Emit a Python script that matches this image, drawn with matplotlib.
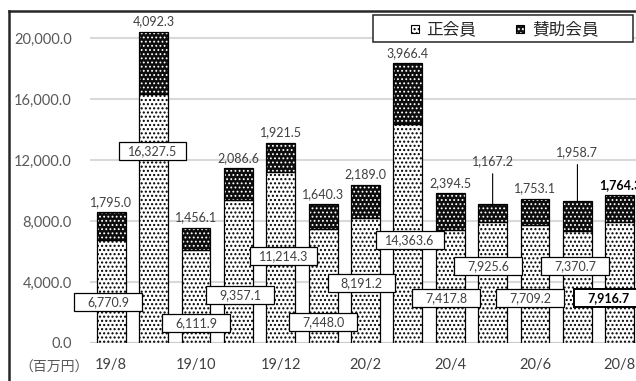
import matplotlib.pyplot as plt
from matplotlib.patches import Rectangle
from matplotlib.lines import Line2D
from matplotlib.path import Path

plt.rcParams['font.family'] = ['Lato', 'Noto Sans CJK JP', 'DejaVu Sans']
plt.rcParams['hatch.linewidth'] = 1.0

months = ['19/8', '19/9', '19/10', '19/11', '19/12', '20/1', '20/2',
          '20/3', '20/4', '20/5', '20/6', '20/7', '20/8']
regular = [6770.9, 16327.5, 6111.9, 9357.1, 11214.3, 7448.0, 8191.2,
           14363.6, 7417.8, 7925.6, 7709.2, 7370.7, 7916.7]
supporting = [1795.0, 4092.3, 1456.1, 2086.6, 1921.5, 1640.3, 2189.0,
              3966.4, 2394.5, 1167.2, 1753.1, 1958.7, 1764.3]
yticks = [0, 4000, 8000, 12000, 16000, 20000]

# where the boxed 正会員 labels sit (hand placed, like the original)
reg_lab_x = [-0.07, 0.97, 2.0, 3.04, 4.06, 5.0, 5.9, 7.05, 7.9, 8.89, 9.88, 10.94, 11.72]
reg_lab_y = [2690, 12590, 1310, 3150, 5700, 1380, 3930, 6750, 2950, 5050, 2950, 5050, 2950]
# extra lift (points) of the 賛助会員 labels that got pulled up
sup_lift = [0, 0, 0, 0, 0, 0, 0, 0, 0, 24, 0, 28, 0]

W, H = 636, 381
def fx(px):
    return px / W
def fy(py):
    return 1 - py / H

fig = plt.figure(figsize=(W / 100, H / 100), dpi=100)
ax = fig.add_axes([fx(90), fy(343), fx(636) - fx(90), fy(11) - fy(343)])

x = list(range(len(months)))
totals = [r + s for r, s in zip(regular, supporting)]
bw = 0.68

ax.bar(x, regular, bw, color='white', hatch='....', edgecolor='black', lw=0, zorder=2)
plt.rcParams['hatch.linewidth'] = 0.8
ax.bar(x, supporting, bw, bottom=regular, color='#0d0d0d', hatch='....',
       edgecolor='white', lw=0, zorder=2)
ax.bar(x, regular, bw, fill=False, edgecolor='black', lw=0.9, zorder=3)
ax.bar(x, supporting, bw, bottom=regular, fill=False, edgecolor='black', lw=0.9, zorder=3)


def label_box(x0, y0, width, height, mutation_size):
    cx = x0 + width / 2
    cy = y0 + height / 2
    w = 5.4 * mutation_size
    h = 1.45 * mutation_size
    return Path([(cx - w / 2, cy - h / 2), (cx + w / 2, cy - h / 2),
                 (cx + w / 2, cy + h / 2), (cx - w / 2, cy + h / 2),
                 (cx - w / 2, cy - h / 2)], closed=True)


last = len(months) - 1
for i in x:
    bold = 'bold' if i == last else 'normal'
    ax.text(reg_lab_x[i], reg_lab_y[i], f'{regular[i]:,.1f}', ha='center', va='center',
            fontsize=9, color='#404040' if i != last else 'black', fontweight=bold, zorder=5,
            bbox=dict(boxstyle=label_box, facecolor='white', edgecolor='black',
                      lw=1.4 if i == last else 0.9))
    arrow = None
    if sup_lift[i]:
        arrow = dict(arrowstyle='-', color='black', lw=0.8, relpos=(0.5, 0),
                     shrinkA=3, shrinkB=0)
    ax.annotate(f'{supporting[i]:,.1f}', (i, totals[i]), xytext=(0, 3 + sup_lift[i]),
                textcoords='offset points', ha='center', va='bottom', fontsize=9,
                color='#404040' if i != last else 'black', fontweight=bold,
                arrowprops=arrow, zorder=5)

ax.set_xlim(-0.5, (636 - 111) / 42.4)
ax.set_ylim(0, 332 * 20000 / 305)
ax.set_yticks(yticks)
ax.set_yticklabels([f'{v:,.1f}' for v in yticks])
ax.set_xticks(x[::2])
ax.set_xticklabels(months[::2])
ax.tick_params(axis='y', length=0, pad=13, labelsize=10.5, labelcolor='#595959')
ax.tick_params(axis='x', length=0, pad=11, labelsize=10.5, labelcolor='#404040')
for s in ax.spines.values():
    s.set_visible(False)
ax.set_axisbelow(True)
ax.yaxis.grid(True, color='#d9d9d9', lw=1.5)
ax.axhline(0, color='#cccccc', lw=1.5, zorder=1)

fig.text(fx(19), fy(367), '（百万円）', fontsize=10, color='#595959', va='center', ha='left')

# outer frame (top and left edge visible)
fig.add_artist(Line2D([fx(9), 1], [fy(11), fy(11)], color='#262626', lw=1.8))
fig.add_artist(Line2D([fx(9), fx(9)], [0, fy(11)], color='#262626', lw=1.8))

# legend
fig.add_artist(Rectangle((fx(373), fy(42)), fx(633) - fx(373), fy(15) - fy(42),
                         facecolor='white', edgecolor='#262626', lw=1.1))
plt.rcParams['hatch.linewidth'] = 1.0
fig.add_artist(Rectangle((fx(411), fy(33)), fx(8), fy(0) - fy(8), facecolor='white',
                         hatch='....', edgecolor='black', lw=0.8))
fig.add_artist(Rectangle((fx(516), fy(33)), fx(8), fy(0) - fy(8), facecolor='#111111',
                         hatch='....', edgecolor='white', lw=0))
fig.add_artist(Rectangle((fx(516), fy(33)), fx(8), fy(0) - fy(8), fill=False,
                         edgecolor='black', lw=0.8))
fig.text(fx(426), fy(29), '正会員', fontsize=12, color='#262626', va='center', ha='left')
fig.text(fx(532), fy(29), '賛助会員', fontsize=12, color='#262626', va='center', ha='left')

fig.savefig('out.png', dpi=100)
